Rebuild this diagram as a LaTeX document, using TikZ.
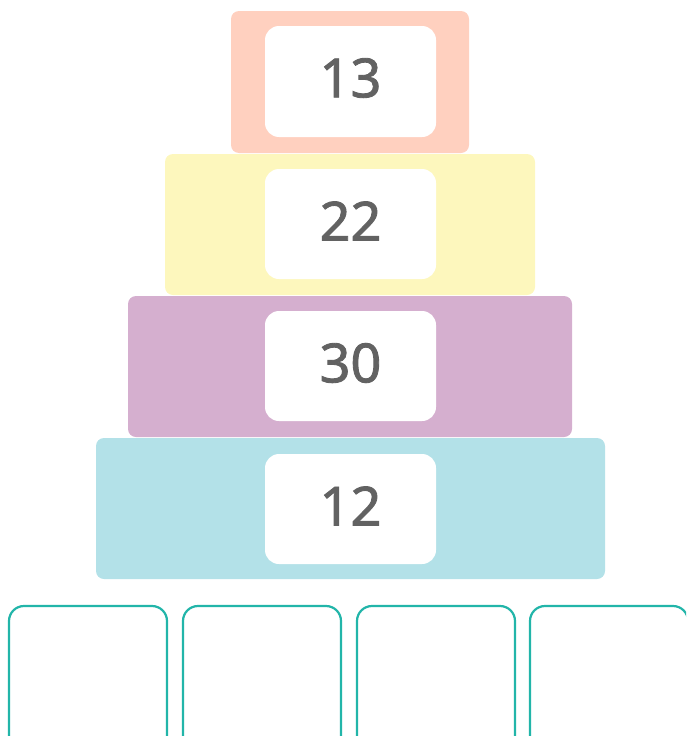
\documentclass[tikz,border=0pt]{standalone}
\usepackage{fontspec}
\setmainfont{Noto Sans}
\newfontfamily\numfont{Noto Sans}[FakeBold=1.6]
\definecolor{peach}{HTML}{FFD0BF}
\definecolor{lemon}{HTML}{FDF7BD}
\definecolor{lilac}{HTML}{D5AFCF}
\definecolor{sky}{HTML}{B3E1E8}
\definecolor{teal2}{HTML}{22B5A9}
\definecolor{numgray}{HTML}{626262}
\begin{document}
\begin{tikzpicture}[x=1pt,y=-1pt,
  layer/.style={rounded corners=8pt},
  card/.style={fill=white,rounded corners=14pt},
  num/.style={font=\numfont\fontsize{54}{60}\selectfont,text=numgray,inner sep=0pt,anchor=center},
  slot/.style={draw=teal2,line width=2.2pt,rounded corners=15pt,fill=white}]
\useasboundingbox (0,0) rectangle (686,736);
% layers
\fill[layer,peach] (231,11) rectangle (469,153);
\fill[layer,lemon] (165,154) rectangle (535,295);
\fill[layer,lilac] (128,296) rectangle (572,437);
\fill[layer,sky] (96,438) rectangle (605,579);
% cards
\fill[card] (265,26) rectangle (436,137);
\fill[card] (265,169) rectangle (436,279);
\fill[card] (265,311) rectangle (436,421);
\fill[card] (265,454) rectangle (436,564);
\node[num] (n1) at (350.5,78) {13};
\node[num] (n2) at (350.5,221) {22};
\node[num] (n3) at (350.5,363) {30};
\node[num] (n4) at (350.5,506) {12};
% answer slots
\begin{scope}
\clip (0,0) rectangle (686,736);
\draw[slot] (9,606) rectangle (167,770);
\draw[slot] (183,606) rectangle (341,770);
\draw[slot] (357,606) rectangle (515,770);
\draw[slot] (530,606) rectangle (688,770);
\end{scope}
\end{tikzpicture}
\end{document}
